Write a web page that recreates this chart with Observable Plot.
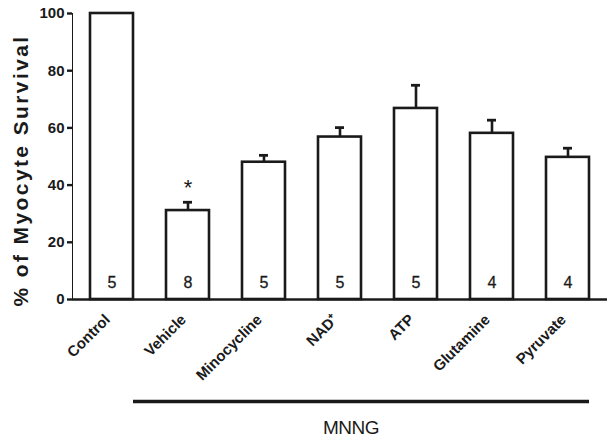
<!DOCTYPE html>
<html>
<head>
<meta charset="utf-8">
<script src="https://cdn.jsdelivr.net/npm/d3@7"></script>
<script src="https://cdn.jsdelivr.net/npm/@observablehq/plot@0.6"></script>
<style>
  html, body { margin: 0; padding: 0; background: #fff; }
  svg { display: block; }
</style>
</head>
<body>
<div id="chart"></div>
<script>
const categories = ["Control", "Vehicle", "Minocycline", "NAD\u207A", "ATP", "Glutamine", "Pyruvate"];
const survival = [100, 31.1, 48.0, 56.8, 66.8, 58.1, 49.7];
const sem = [0, 2.9, 2.4, 3.3, 8.1, 4.6, 3.2];
const nCounts = [5, 8, 5, 5, 5, 4, 4];
const significant = ["Vehicle"];
const yTicks = [0, 20, 40, 60, 80, 100];
const groupLabel = "MNNG";
const groupMembers = ["Vehicle", "Minocycline", "NAD\u207A", "ATP", "Glutamine", "Pyruvate"];
const yLabel = "% of Myocyte Survival";

const data = categories.map((c, i) => ({cat: c, v: survival[i], e: sem[i], n: nCounts[i]}));
const errData = data.filter(d => d.e > 0);
const starData = data.filter(d => significant.includes(d.cat));

const chart = Plot.plot({
  width: 616,
  height: 442,
  marginLeft: 72,
  marginRight: 9,
  marginTop: 13,
  marginBottom: 143,
  style: {fontFamily: "'Liberation Sans', Arial, sans-serif", fontSize: "15px", fontWeight: "bold", color: "#1a1a1a", background: "#fff"},
  x: {domain: categories, paddingInner: 0.43, paddingOuter: 0.215, axis: null},
  y: {domain: [0, 100], ticks: yTicks, tickSize: 5, tickPadding: 3, line: true, label: null},
  marks: [
    Plot.barY(data, {x: "cat", y: "v", fill: "white", stroke: "#1a1a1a", strokeWidth: 2.6}),
    Plot.ruleX(errData, {x: "cat", y1: "v", y2: d => d.v + d.e, stroke: "#1a1a1a", strokeWidth: 2.6}),
    Plot.tickY(errData, {x: "cat", y: d => d.v + d.e, stroke: "#1a1a1a", strokeWidth: 2.8, insetLeft: 17, insetRight: 17}),
    Plot.text(data, {x: "cat", y: 0, text: d => String(d.n), dy: -17, fontSize: 16, fontWeight: "normal", fill: "#1a1a1a", stroke: "#1a1a1a", strokeWidth: 0.3}),
    Plot.text(starData, {x: "cat", y: d => d.v + d.e, text: () => "*", dy: -14, fontSize: 22, fontWeight: "normal", fill: "#1a1a1a"}),
    Plot.text(categories, {x: d => d, frameAnchor: "bottom", rotate: -45, textAnchor: "end", dy: 21, dx: -1, fontSize: 15, fontWeight: "bold", fill: "#1a1a1a"}),
    Plot.text([yLabel], {frameAnchor: "left", textAnchor: "middle", rotate: -90, dx: -51, dy: 14, fontSize: 21, fontWeight: "bold", fill: "#1a1a1a", text: d => d}),
    Plot.ruleY([0], {stroke: "#1a1a1a", strokeWidth: 2.6})
  ]
});

// Y label letter spacing
d3.select(chart).selectAll("text").filter(function() { return this.textContent === yLabel; })
  .style("letter-spacing", "2.4px");

// axis line thickness
d3.select(chart).selectAll("[aria-label='y-axis line'] line, [aria-label='y-axis tick'] path").attr("stroke-width", 2.4);

// MNNG bracket derived from the x scale
const sx = chart.scale("x");
const bw = sx.bandwidth;
const step = sx.step;
const gap = step - bw;
const first = sx.apply(groupMembers[0]);
const last = sx.apply(groupMembers[groupMembers.length - 1]);
const lx1 = first - gap;
const lx2 = last + bw;
const svg = d3.select(chart);
svg.append("line")
  .attr("x1", lx1).attr("x2", lx2)
  .attr("y1", 401.5).attr("y2", 401.5)
  .attr("stroke", "#1a1a1a").attr("stroke-width", 3.6);
svg.append("text")
  .attr("x", (lx1 + lx2) / 2 - 10).attr("y", 434)
  .attr("text-anchor", "middle")
  .attr("font-family", "'Liberation Sans', Arial, sans-serif")
  .attr("font-size", 19).attr("font-weight", "normal")
  .attr("fill", "#1a1a1a")
  .style("letter-spacing", "-0.5px")
  .text(groupLabel);

document.getElementById("chart").appendChild(chart);
</script>
</body>
</html>
